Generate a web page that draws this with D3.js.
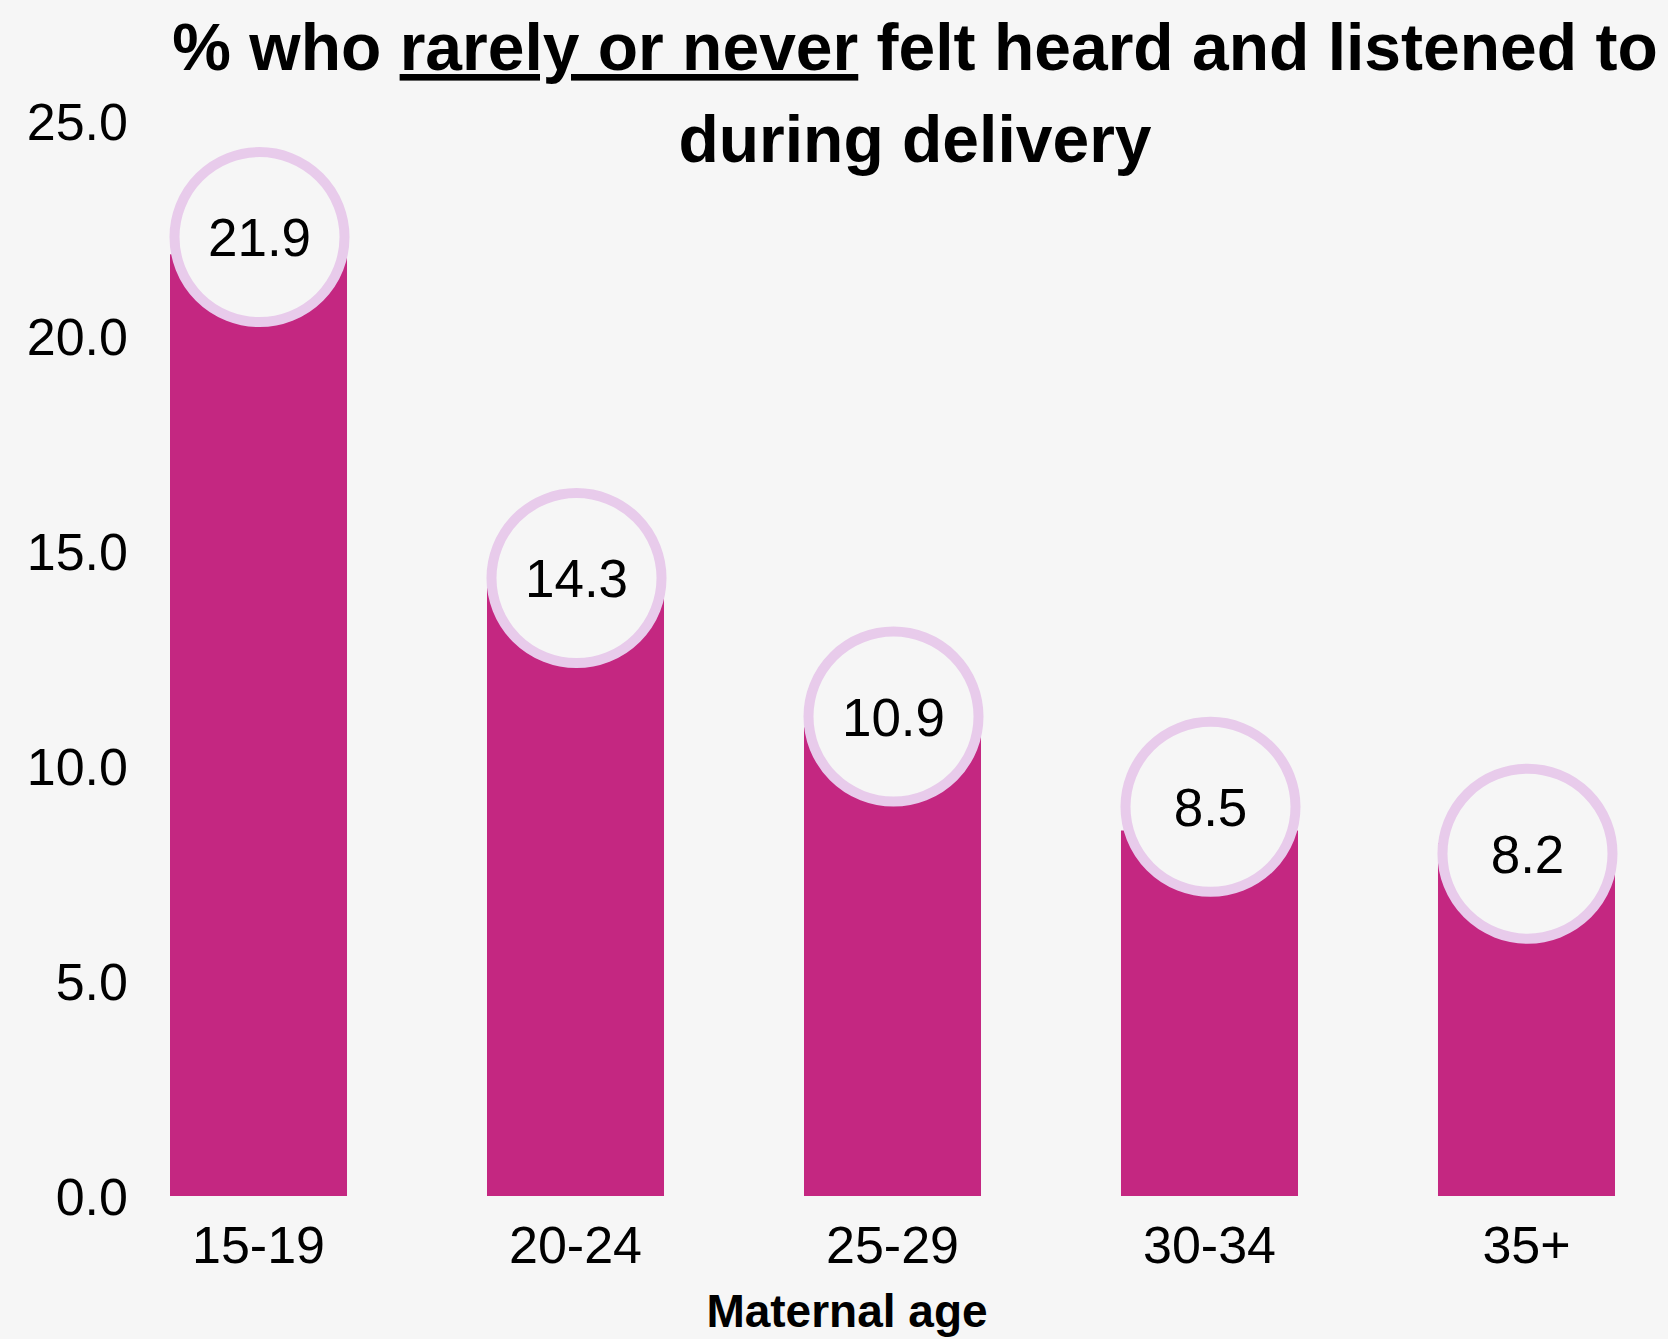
<!DOCTYPE html>
<html>
<head>
<meta charset="utf-8">
<script src="https://cdn.jsdelivr.net/npm/d3@7"></script>
<style>
  html, body { margin: 0; padding: 0; background: #f6f6f6; }
  svg { display: block; }
  text { font-family: "Liberation Sans", Arial, Helvetica, sans-serif; fill: #000; }
</style>
</head>
<body>
<svg id="chart" width="1668" height="1339"></svg>
<script>
// ---- data ----
const categories = ["15-19", "20-24", "25-29", "30-34", "35+"];
const values = [21.9, 14.3, 10.9, 8.5, 8.2];
// where each value bubble sits (in % units)
const bubbleAt = [22.3, 14.37, 11.15, 9.05, 7.96];
const yTicks = [0, 5, 10, 15, 20, 25];
const titleLine1 = ["% who ", "rarely or never", " felt heard and listened to"];
const titleLine2 = "during delivery";
const xTitle = "Maternal age";

// ---- styles ----
const W = 1668, H = 1339;
const barColor = "#c42781";
const ringColor = "#e8cbeb";
const bgColor = "#f6f6f6";

const svg = d3.select("#chart");
svg.append("rect").attr("width", W).attr("height", H).attr("fill", bgColor);

const x = d3.scaleBand()
  .domain(categories)
  .range([154.15, 1630.85])
  .paddingInner(0.4416)
  .paddingOuter(0.05);

const y = d3.scaleLinear().domain([0, 25]).range([1196, 121]);

// y axis
const yAxis = d3.axisLeft(y).tickValues(yTicks).tickFormat(d3.format(".1f")).tickSize(0).tickPadding(0);
const gy = svg.append("g").attr("transform", "translate(128,0)").call(yAxis);
gy.select(".domain").remove();
gy.selectAll("text")
  .attr("font-size", 52)
  .attr("font-family", "'Liberation Sans', Arial, sans-serif")
  .attr("fill", "#000")
  .attr("dy", "0.36em");

// x axis
const xAxis = d3.axisBottom(x).tickSize(0).tickPadding(0);
const gx = svg.append("g").attr("transform", "translate(0,1263)").call(xAxis);
gx.select(".domain").remove();
gx.selectAll("text")
  .attr("font-size", 52)
  .attr("font-family", "'Liberation Sans', Arial, sans-serif")
  .attr("fill", "#000")
  .attr("y", 0)
  .attr("dy", 0);

// bars
svg.append("g").selectAll("rect")
  .data(values)
  .join("rect")
  .attr("x", (d, i) => x(categories[i]))
  .attr("width", x.bandwidth())
  .attr("y", d => y(d))
  .attr("height", d => y(0) - y(d))
  .attr("fill", barColor);

// bubbles
const bub = svg.append("g").selectAll("g")
  .data(values)
  .join("g")
  .attr("transform", (d, i) => `translate(${x(categories[i]) + x.bandwidth() / 2 + 1},${y(bubbleAt[i])})`);
bub.append("circle")
  .attr("r", 85)
  .attr("fill", bgColor)
  .attr("stroke", ringColor)
  .attr("stroke-width", 10);
bub.append("text")
  .attr("text-anchor", "middle")
  .attr("dy", "0.36em")
  .attr("font-size", 53)
  .text(d => d3.format(".1f")(d));

// title
const t1 = svg.append("text")
  .attr("x", 915).attr("y", 70)
  .attr("text-anchor", "middle")
  .attr("font-size", 66)
  .attr("font-weight", "bold");
titleLine1.forEach((s, i) => {
  const ts = t1.append("tspan").text(s);
  if (i === 1) ts.style("text-decoration", "underline");
});
svg.append("text")
  .attr("x", 915).attr("y", 162)
  .attr("text-anchor", "middle")
  .attr("font-size", 66)
  .attr("font-weight", "bold")
  .text(titleLine2);

// x title
svg.append("text")
  .attr("x", 847).attr("y", 1327)
  .attr("text-anchor", "middle")
  .attr("font-size", 46)
  .attr("font-weight", "bold")
  .text(xTitle);
</script>
</body>
</html>
